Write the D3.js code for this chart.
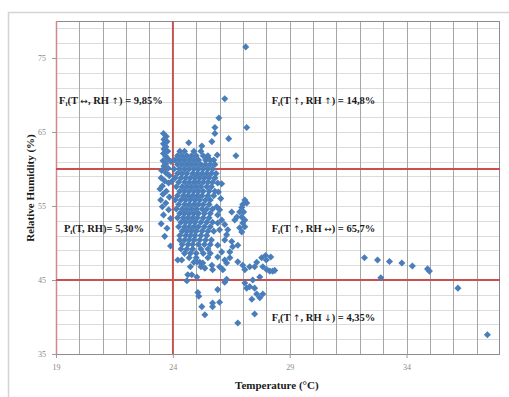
<!DOCTYPE html>
<html>
<head>
<meta charset="utf-8">
<script src="https://cdn.jsdelivr.net/npm/d3@7"></script>
<style>
  body { margin: 0; background: #fff; }
  svg { display: block; }
</style>
</head>
<body>
<div id="chart"></div>
<script>
// axis ticks and threshold lines
const xTicks = [19, 24, 29, 34];
const yTicks = [35, 45, 55, 65, 75];
const tempLimits = [24];
const rhLimits = [45, 60];

// [temperature °C, relative humidity %]
const westColumn = [
  [23.6,64.8],[23.72,64.4],[23.62,64.0],[23.75,63.7],[23.6,63.4],[23.7,63.0],[23.62,62.7],[23.78,62.4],
  [23.6,62.1],[23.7,61.7],[23.78,61.4],[23.58,61.1],[23.7,60.7],[23.62,60.4],[23.8,60.1],[23.52,59.8],
  [23.7,59.5],[23.85,59.1],[23.5,58.8],[23.65,58.4],[23.82,58.1],[23.55,57.7],[23.45,57.3],[23.72,57.0],
  [23.58,56.6],[23.85,56.2],[23.48,55.8],[23.7,55.4],[23.55,54.9],[23.82,54.5],[23.6,53.8],[23.9,53.3],
  [23.5,52.6],[23.75,52.0],[23.65,50.9],[23.9,49.6],[23.92,61.0],[23.95,58.3]
];

const coreCluster = [
  [24.3,62.4],[24.5,62.4],[24.9,62.4],[25.2,62.4],
  [24.2,61.8],[24.4,61.8],[24.6,61.8],[24.8,61.8],[25.0,61.8],[25.3,61.8],[25.5,61.8],
  [24.1,61.2],[24.3,61.2],[24.5,61.2],[24.7,61.2],[24.9,61.2],[25.1,61.2],[25.4,61.2],[25.6,61.2],[25.75,61.2],
  [24.2,60.6],[24.4,60.6],[24.6,60.6],[24.8,60.6],[25.0,60.6],[25.2,60.6],[25.4,60.6],[25.6,60.6],[25.8,60.6],
  [24.05,60.0],[24.3,60.0],[24.5,60.0],[24.7,60.0],[24.9,60.0],[25.1,60.0],[25.3,60.0],[25.5,60.0],[25.7,60.0],
  [24.2,59.4],[24.4,59.4],[24.6,59.4],[24.85,59.4],[25.05,59.4],[25.25,59.4],[25.45,59.4],[25.65,59.4],[25.85,59.4],
  [24.1,58.8],[24.35,58.8],[24.55,58.8],[24.75,58.8],[24.95,58.8],[25.15,58.8],[25.35,58.8],[25.55,58.8],[25.8,58.8],
  [24.25,58.2],[24.5,58.2],[24.7,58.2],[24.9,58.2],[25.1,58.2],[25.3,58.2],[25.5,58.2],[25.7,58.2],
  [24.15,57.6],[24.4,57.6],[24.6,57.6],[24.8,57.6],[25.0,57.6],[25.2,57.6],[25.45,57.6],[25.65,57.6],
  [24.3,57.0],[24.5,57.0],[24.7,57.0],[24.9,57.0],[25.1,57.0],[25.3,57.0],[25.55,57.0],[25.8,57.0],
  [24.2,56.4],[24.45,56.4],[24.65,56.4],[24.85,56.4],[25.05,56.4],[25.25,56.4],[25.5,56.4],[25.75,56.4],
  [24.1,55.8],[24.35,55.8],[24.55,55.8],[24.75,55.8],[24.95,55.8],[25.15,55.8],[25.4,55.8],[25.6,55.8],
  [24.25,55.2],[24.5,55.2],[24.7,55.2],[24.9,55.2],[25.1,55.2],[25.3,55.2],[25.55,55.2],
  [24.15,54.6],[24.4,54.6],[24.6,54.6],[24.8,54.6],[25.0,54.6],[25.25,54.6],[25.45,54.6],[25.7,54.6],
  [24.3,54.0],[24.5,54.0],[24.7,54.0],[24.9,54.0],[25.1,54.0],[25.35,54.0],[25.6,54.0],
  [24.2,53.4],[24.45,53.4],[24.65,53.4],[24.85,53.4],[25.05,53.4],[25.3,53.4],[25.55,53.4],
  [24.35,52.8],[24.55,52.8],[24.75,52.8],[24.95,52.8],[25.2,52.8],[25.45,52.8],[25.7,52.8],
  [24.25,52.2],[24.5,52.2],[24.7,52.2],[24.9,52.2],[25.1,52.2],[25.35,52.2],[25.6,52.2],
  [24.4,51.6],[24.6,51.6],[24.8,51.6],[25.0,51.6],[25.25,51.6],[25.5,51.6],[25.75,51.6],
  [24.3,51.0],[24.55,51.0],[24.75,51.0],[24.95,51.0],[25.2,51.0],[25.45,51.0],
  [24.3,50.4],[24.5,50.4],[24.7,50.4],[24.9,50.4],[25.15,50.4],[25.4,50.4],[25.65,50.4],
  [24.4,49.8],[24.65,49.8],[24.85,49.8],[25.1,49.8],[25.35,49.8],[25.6,49.8],
  [24.35,49.2],[24.6,49.2],[24.85,49.2],[25.2,49.2],[25.5,49.2],
  [24.5,48.6],[24.75,48.6],[25.0,48.6],[25.3,48.6],[25.6,48.6],
  [24.7,48.0],[25.0,48.0],[24.9,47.4],[25.15,47.4],[24.75,46.8],[25.2,46.8]
];

const coreLower = [
  [24.21,47.7],[24.38,47.7],[24.81,45.7],[24.64,45.7],[24.6,44.9],[25.03,45.4],[25.07,43.3],[25.11,42.8],
  [25.24,41.4],[25.37,40.3],[25.7,41.4],[25.7,41.9],[26.0,42.0],[25.92,43.7],[26.22,44.7],[26.3,45.1],
  [25.03,47.45],[25.28,47.3],[25.37,46.6],[25.67,47.0],[25.7,46.4],[25.5,48.0]
];

const eastSide = [
  [25.92,58.1],[26.09,58.0],[26.05,56.0],[25.95,56.9],[25.88,54.9],[26.0,54.5],[25.92,53.8],[26.09,53.1],
  [25.92,52.7],[26.22,52.5],[26.0,51.8],[26.35,51.8],[26.3,51.1],[26.22,50.4],[25.92,49.7],[26.52,50.2],
  [26.56,49.5],[26.78,49.7],[26.09,48.8],[26.44,48.8],[25.92,48.1],[26.22,47.7],[26.44,48.0],[26.0,46.8],
  [26.3,47.3],[26.14,46.4]
];

const eastCluster = [
  [27.08,55.8],[27.16,55.4],[26.99,55.2],[26.95,54.8],[26.86,54.2],[27.03,54.2],[26.74,53.5],[26.95,53.5],
  [27.08,53.1],[26.99,52.7],[27.08,52.2],[26.86,52.05],[26.95,51.5],[26.65,53.1],[26.52,54.2]
];

const eastLower = [
  [27.59,47.4],[27.8,48.0],[27.97,48.3],[28.19,48.1],[28.0,47.7],[27.85,46.8],[28.02,46.4],[28.15,46.2],
  [28.27,46.2],[28.36,46.3],[27.42,45.0],[27.5,43.9],[27.59,43.1],[27.72,42.6],[27.85,43.1],[27.38,42.4],
  [27.5,40.4],[27.29,46.8],[27.08,46.4],[27.5,46.8],[27.72,45.4],[27.08,44.6],[27.16,43.9],[27.29,44.1],
  [26.78,39.2],[26.78,47.45],[26.99,47.0]
];

const highPoints = [
  [25.67,63.7],[25.8,65.6],[25.8,64.8],[25.97,66.9],[26.22,69.5],[26.39,64.1],[26.7,61.8],[27.16,65.6],
  [27.12,76.5],[24.68,63.55],[25.24,63.1],[25.9,61.9],[25.5,61.4]
];

const farEast = [
  [32.2,48.0],[32.76,47.7],[33.27,47.5],[33.8,47.3],[34.25,46.9],[34.9,46.5],[34.98,46.2],[32.9,45.3],
  [36.2,43.9],[37.46,37.6]
];

// region labels: [main letter, subscript, rest]
const noteText = [
  ["F", "i", "(T \u2194, RH \u2191) = 9,85%"],
  ["F", "i", "(T \u2191, RH \u2191) = 14,8%"],
  ["P", "i", "(T, RH)= 5,30%"],
  ["F", "i", "(T \u2191, RH \u2194) = 65,7%"],
  ["F", "i", "(T \u2191, RH \u2193) = 4,35%"]
];

const points = [].concat(westColumn, coreCluster, coreLower, eastSide, eastCluster, eastLower, highPoints, farEast);

const W = 509, H = 397;
const margin = { top: 21, right: 9, bottom: 43, left: 56 };
const width = W - margin.left - margin.right;
const height = H - margin.top - margin.bottom;

const svg = d3.select("#chart").append("svg")
  .attr("width", W)
  .attr("height", H);

// outer chart frame
svg.append("rect")
  .attr("x", 8.5).attr("y", 12.5)
  .attr("width", 520).attr("height", 420)
  .attr("fill", "none")
  .attr("stroke", "#d4d4d4")
  .attr("stroke-width", 1.5);

const g = svg.append("g").attr("transform", `translate(${margin.left},${margin.top})`);

const x = d3.scaleLinear().domain([19, 38]).range([0, width]);
const y = d3.scaleLinear().domain([35, 80]).range([height, 0]);

// minor horizontal grid (every 2 %)
g.append("g").selectAll("line")
  .data(d3.range(37, 80, 2))
  .enter().append("line")
  .attr("x1", 0).attr("x2", width)
  .attr("y1", d => Math.round(y(d)) + 0.5).attr("y2", d => Math.round(y(d)) + 0.5)
  .attr("stroke", "#dcdcdc");

// vertical grid (every 1 °C)
g.append("g").selectAll("line")
  .data(d3.range(20, 38, 1))
  .enter().append("line")
  .attr("y1", 0).attr("y2", height)
  .attr("x1", d => Math.round(x(d)) + 0.5).attr("x2", d => Math.round(x(d)) + 0.5)
  .attr("stroke", "#a6a6a6");

// plot frame
g.append("line").attr("x1", 0).attr("x2", width).attr("y1", 0.5).attr("y2", 0.5).attr("stroke", "#8c8c8c");
g.append("line").attr("x1", width - 0.5).attr("x2", width - 0.5).attr("y1", 0).attr("y2", height).attr("stroke", "#8c8c8c");
g.append("line").attr("x1", 0).attr("x2", width).attr("y1", height + 0.5).attr("y2", height + 0.5).attr("stroke", "#8c8c8c");
g.append("line").attr("x1", 0.5).attr("x2", 0.5).attr("y1", 0).attr("y2", height).attr("stroke", "#d08a88").attr("stroke-width", 1.5);

// X axis
g.append("g")
  .attr("transform", `translate(0,${height})`)
  .call(d3.axisBottom(x).tickValues(xTicks).tickSize(4).tickPadding(6))
  .call(a => a.select(".domain").remove())
  .call(a => a.selectAll(".tick line").attr("stroke", "#9a9a9a"))
  .call(a => a.selectAll(".tick text").attr("fill", "#8a8a8a")
    .style("font-family", "'Liberation Serif', serif").style("font-size", "8px"));

// Y axis
g.append("g")
  .call(d3.axisLeft(y).tickValues(yTicks).tickSize(4).tickPadding(6))
  .call(a => a.select(".domain").remove())
  .call(a => a.selectAll(".tick line").attr("stroke", "#9a9a9a"))
  .call(a => a.selectAll(".tick text").attr("fill", "#8a8a8a")
    .style("font-family", "'Liberation Serif', serif").style("font-size", "8px"));

// red threshold lines
g.selectAll(".tline")
  .data(tempLimits)
  .enter().append("line")
  .attr("x1", d => x(d)).attr("x2", d => x(d))
  .attr("y1", 0).attr("y2", height)
  .attr("stroke", "#c9504d").attr("stroke-width", 1.8);

g.selectAll(".rhline")
  .data(rhLimits)
  .enter().append("line")
  .attr("x1", 0).attr("x2", width)
  .attr("y1", d => y(d)).attr("y2", d => y(d))
  .attr("stroke", "#c9504d").attr("stroke-width", 1.8);

// scatter points (diamonds)
const diamond = d3.symbol().type(d3.symbolSquare).size(25);
g.append("g").selectAll("path")
  .data(points)
  .enter().append("path")
  .attr("d", diamond)
  .attr("transform", d => `translate(${x(d[0])},${y(d[1])}) rotate(45)`)
  .attr("fill", "#4a7ebb");

// region labels, placed in data coordinates
const notePos = [[19.13, 68.8], [28.23, 68.8], [19.34, 51.5], [28.23, 51.5], [28.23, 39.5]];
const notes = g.append("g")
  .style("font-family", "'Liberation Serif', 'Times New Roman', serif")
  .style("font-weight", "bold")
  .style("font-size", "10.5px")
  .attr("fill", "#1a1a1a");

const arrowRe = /([\u2190-\u2195])/;
noteText.forEach((t, i) => {
  const txt = notes.append("text")
    .attr("x", x(notePos[i][0]))
    .attr("y", y(notePos[i][1]));
  txt.append("tspan").text(t[0]);
  txt.append("tspan").attr("dy", 2).style("font-size", "7px").text(t[1]);
  t[2].split(arrowRe).forEach((part, k) => {
    if (!part) return;
    const sp = txt.append("tspan").text(part);
    if (k === 0) sp.attr("dy", -2);
    if (arrowRe.test(part)) {
      sp.style("font-family", "'DejaVu Sans', sans-serif")
        .style("font-weight", "normal")
        .style("font-size", "9px");
    }
  });
});

// axis titles
svg.append("text")
  .attr("x", margin.left + x(28.45))
  .attr("y", 389)
  .attr("text-anchor", "middle")
  .style("font-family", "'Liberation Serif', 'Times New Roman', serif")
  .style("font-weight", "bold")
  .style("font-size", "11px")
  .attr("fill", "#1a1a1a")
  .text("Temperature (\u00B0C)");

svg.append("text")
  .attr("transform", `translate(34,${188}) rotate(-90)`)
  .attr("text-anchor", "middle")
  .style("font-family", "'Liberation Serif', 'Times New Roman', serif")
  .style("font-weight", "bold")
  .style("font-size", "11px")
  .attr("fill", "#1a1a1a")
  .text("Relative Humidity (%)");
</script>
</body>
</html>
